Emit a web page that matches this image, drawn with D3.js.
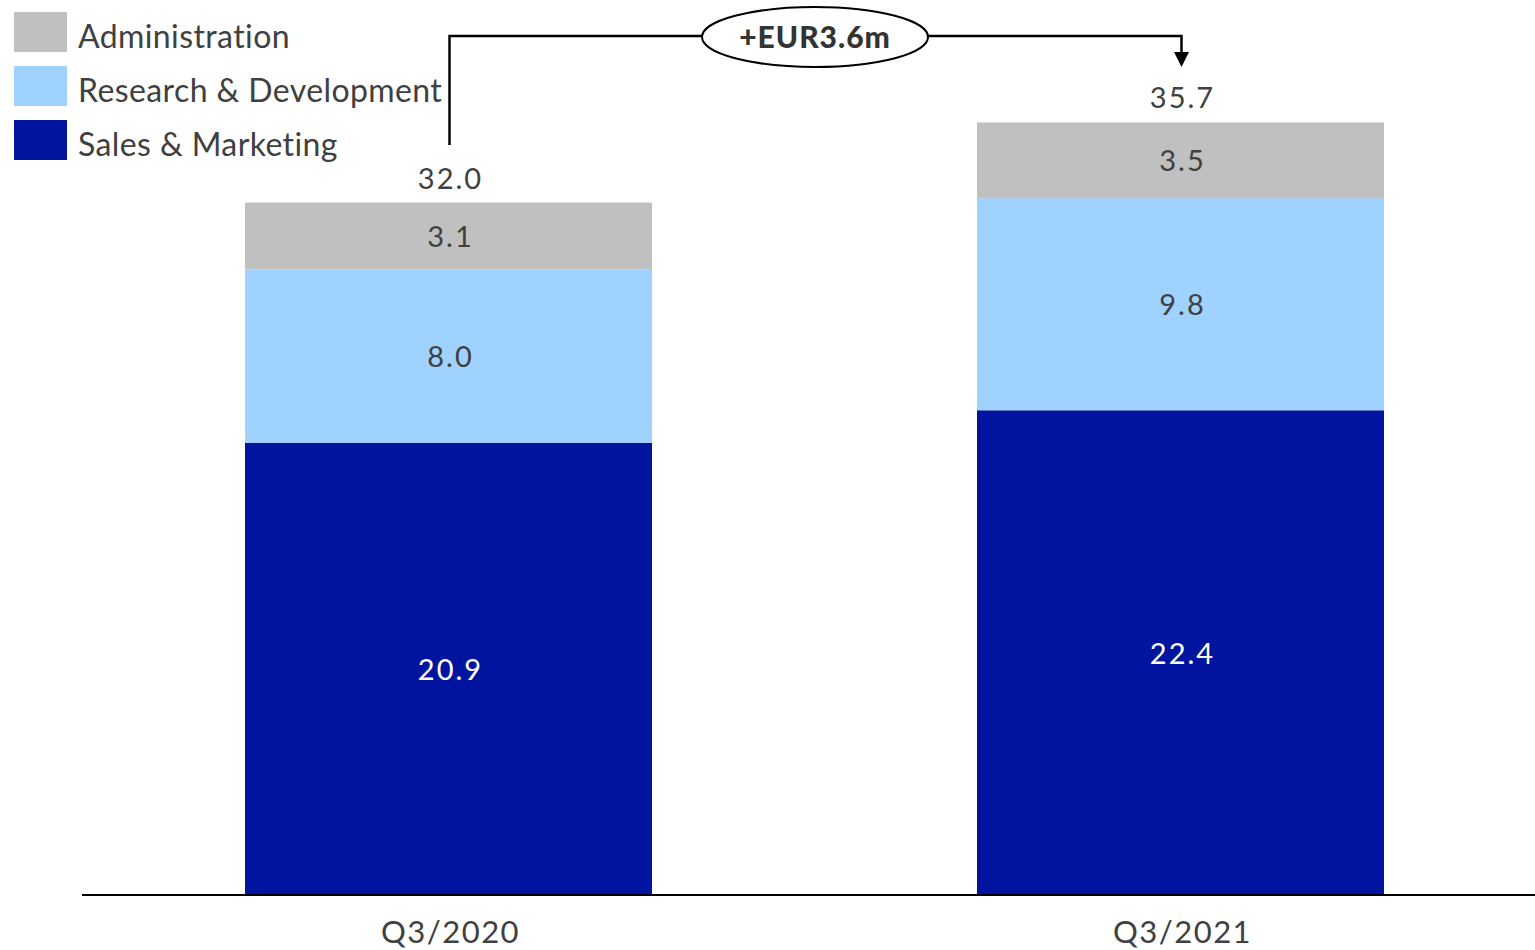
<!DOCTYPE html>
<html>
<head>
<meta charset="utf-8">
<script src="https://cdn.jsdelivr.net/npm/d3@7"></script>
<style>
  html, body { margin: 0; padding: 0; background: #ffffff; }
  svg { display: block; }
  text { font-family: Lato, "Open Sans", sans-serif; fill: #404040; }
</style>
</head>
<body>
<svg id="chart" width="1535" height="950"></svg>
<script>
// Operating expenses by function, EUR m
const periods = ["Q3/2020", "Q3/2021"];
const seriesNames = ["Sales & Marketing", "Research & Development", "Administration"];
const salesMarketing = [20.9, 22.4];
const researchDev = [8.0, 9.8];
const administration = [3.1, 3.5];
const totals = [32.0, 35.7];
const changeLabel = "+EUR3.6m";
const colors = ["#0014A0", "#A0D2FF", "#C0C0C0"];

const svg = d3.select("#chart");
const baseline = 895;

const rows = periods.map((p, i) => ({
  period: p,
  "Sales & Marketing": salesMarketing[i],
  "Research & Development": researchDev[i],
  "Administration": administration[i],
  total: totals[i]
}));

const stack = d3.stack().keys(seriesNames)(rows);

const x = d3.scaleBand().domain(periods)
  .range([88, 1541]).paddingInner(0.444).paddingOuter(0.2145);
const barW = x.bandwidth();
const cx = d => x(d) + barW / 2 + 2;

const y = d3.scaleLinear().domain([0, 40]).range([baseline, baseline - 40 * 21.64]);

const color = d3.scaleOrdinal().domain(seriesNames).range(colors);

// Stacked segments
const layers = svg.append("g").selectAll("g").data(stack).join("g")
  .attr("fill", d => color(d.key));

layers.selectAll("rect").data(d => d).join("rect")
  .attr("x", d => x(d.data.period))
  .attr("width", barW)
  .attr("y", d => y(d[1]))
  .attr("height", d => y(d[0]) - y(d[1]));

// Segment value labels
layers.selectAll("text").data(d => d.map(v => ({ v, key: d.key }))).join("text")
  .attr("x", d => cx(d.v.data.period))
  .attr("y", d => (y(d.v[0]) + y(d.v[1])) / 2 + 11)
  .attr("text-anchor", "middle")
  .style("font-size", "29px")
  .style("letter-spacing", "2px")
  .style("fill", d => d.key === "Sales & Marketing" ? "#ffffff" : "#404040")
  .text(d => (d.v[1] - d.v[0]).toFixed(1));

// Totals above bars
svg.append("g").selectAll("text").data(rows).join("text")
  .attr("x", d => cx(d.period))
  .attr("y", d => y(d.total) - 14)
  .attr("text-anchor", "middle")
  .style("font-size", "29px")
  .style("letter-spacing", "2px")
  .text(d => d.total.toFixed(1));

// Baseline axis
svg.append("line")
  .attr("x1", 82).attr("x2", 1535)
  .attr("y1", baseline).attr("y2", baseline)
  .attr("stroke", "#000").attr("stroke-width", 2);

// Category labels
svg.append("g").selectAll("text").data(periods).join("text")
  .attr("x", d => cx(d))
  .attr("y", 943)
  .attr("text-anchor", "middle")
  .style("font-size", "31px")
  .style("letter-spacing", "1.5px")
  .text(d => d);

// Legend (top entry first)
const legendOrder = ["Administration", "Research & Development", "Sales & Marketing"];
const legend = svg.append("g").selectAll("g").data(legendOrder).join("g")
  .attr("transform", (d, i) => `translate(14, ${12 + i * 54})`);
legend.append("rect").attr("width", 53).attr("height", 40).attr("fill", d => color(d));
legend.append("text").attr("x", 64).attr("y", 36)
  .style("font-size", "32px")
  .style("letter-spacing", "0.4px")
  .text(d => d);

// Change bracket with arrow
const xL = cx(periods[0]) - 1;
const xR = cx(periods[1]) - 1;
const yTop = 36;
const arrowTip = 67;
const ell = { cx: 815, cy: 37, rx: 113, ry: 30 };

svg.append("path")
  .attr("d", `M${xL},145 L${xL},${yTop} L${ell.cx - ell.rx},${yTop}`)
  .attr("fill", "none").attr("stroke", "#000").attr("stroke-width", 2.5);
svg.append("path")
  .attr("d", `M${ell.cx + ell.rx},${yTop} L${xR},${yTop} L${xR},${arrowTip - 14}`)
  .attr("fill", "none").attr("stroke", "#000").attr("stroke-width", 2.5);
svg.append("path")
  .attr("d", `M${xR - 7.5},${arrowTip - 15} L${xR + 7.5},${arrowTip - 15} L${xR},${arrowTip} Z`)
  .attr("fill", "#000");

svg.append("ellipse")
  .attr("cx", ell.cx).attr("cy", ell.cy).attr("rx", ell.rx).attr("ry", ell.ry)
  .attr("fill", "#fff").attr("stroke", "#000").attr("stroke-width", 2);
svg.append("text")
  .attr("x", ell.cx).attr("y", ell.cy + 11)
  .attr("text-anchor", "middle")
  .style("font-size", "30px").style("font-weight", "900")
  .style("letter-spacing", "1px")
  .style("fill", "#333")
  .text(changeLabel);
</script>
</body>
</html>
